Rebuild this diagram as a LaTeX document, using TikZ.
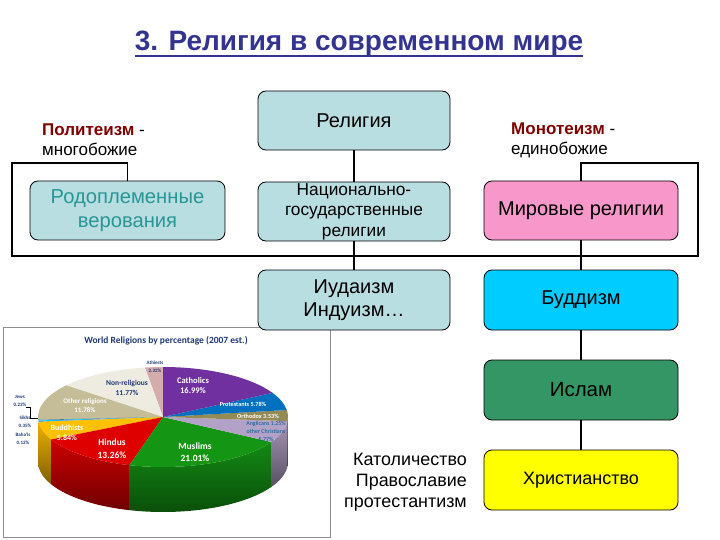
\documentclass[tikz,border=0pt]{standalone}
\usepackage{fontspec}
\setmainfont{Liberation Sans}
\newfontfamily\calfont{Carlito}
\definecolor{titleblue}{RGB}{51,51,145}
\definecolor{boxblue}{RGB}{185,222,226}
\definecolor{tealtext}{RGB}{40,150,150}
\definecolor{pinkbox}{RGB}{248,152,202}
\definecolor{cyanbox}{RGB}{0,204,255}
\definecolor{greenbox}{RGB}{51,150,100}
\definecolor{yellowbox}{RGB}{255,255,0}
\definecolor{maroon}{RGB}{128,0,0}
\definecolor{cathc}{RGB}{112,48,160}
\definecolor{protc}{RGB}{0,112,192}
\definecolor{orthc}{RGB}{148,138,84}
\definecolor{anglc}{RGB}{179,162,199}
\definecolor{muslc}{RGB}{20,150,20}
\definecolor{hindc}{RGB}{222,0,0}
\definecolor{buddc}{RGB}{255,192,0}
\definecolor{smallc}{RGB}{90,110,150}
\definecolor{otherc}{RGB}{196,189,151}
\definecolor{nonrc}{RGB}{238,236,225}
\definecolor{athec}{RGB}{212,172,172}
\definecolor{piefont}{RGB}{31,56,120}
\newcommand\pieslice[3]{\fill[#3] (0,0) -- (#1:125 and 50) arc[start angle=#1, end angle=#2, x radius=125, y radius=50] -- cycle;}
\newcommand\pieside[3]{\shade[top color=#3!92!black, bottom color=#3!50!black] (#1:125 and 50) arc[start angle=#1, end angle=#2, x radius=125, y radius=50] -- ++(0,-45) arc[start angle=#2, end angle=#1, x radius=125, y radius=50] -- cycle;}
\begin{document}
\begin{tikzpicture}[x=1pt,y=-1pt,
  box/.style={draw=black, line width=0.8pt, rounded corners=8pt, minimum width=192pt, minimum height=59pt, inner sep=0pt, align=center, font=\fontsize{20}{24}\selectfont},
  conn/.style={line width=1.5pt},
  side/.style={align=left, inner sep=0pt, font=\fontsize{17}{20}\selectfont},
  pl/.style={inner sep=0pt, align=center, font=\calfont\bfseries\fontsize{8.5}{10}\selectfont, text=white},
  pls/.style={inner sep=0pt, align=center, font=\calfont\bfseries\fontsize{6}{8}\selectfont, text=piefont},
]
\useasboundingbox (0,0) rectangle (720,540);
\fill[white] (0,0) rectangle (720,540);

% pie chart picture
\draw[fill=white, draw=black!45, line width=0.8pt] (3,327) rectangle (330,537);
\node[inner sep=0pt, text=piefont, font=\calfont\bfseries\fontsize{9.5}{11}\selectfont] (pietitle) at (166,341) {World Religions by percentage (2007 est.)};
\begin{scope}[shift={(163,417)}, y=1pt]
  \pieside{180}{183.13}{otherc}
  \pieside{183.13}{183.96}{smallc}
  \pieside{183.96}{185.22}{cyanbox}
  \pieside{185.22}{185.65}{smallc}
  \pieside{185.65}{206.67}{buddc}
  \pieside{206.67}{254.41}{hindc}
  \pieside{254.41}{330.05}{muslc}
  \pieside{330.05}{355.32}{anglc}
  \pieside{355.32}{360}{orthc}
  \pieslice{90}{98.35}{athec}
  \pieslice{98.35}{140.72}{nonrc}
  \pieslice{140.72}{183.13}{otherc}
  \pieslice{183.13}{183.96}{smallc}
  \pieslice{183.96}{185.22}{cyanbox}
  \pieslice{185.22}{185.65}{smallc}
  \pieslice{185.65}{206.67}{buddc}
  \pieslice{206.67}{254.41}{hindc}
  \pieslice{254.41}{330.05}{muslc}
  \pieslice{330.05}{355.32}{anglc}
  \pieslice{-4.68}{8.03}{orthc}
  \pieslice{8.03}{28.84}{protc}
  \pieslice{28.84}{90}{cathc}
\end{scope}
\node[pl] (lcath) at (193,386) {Catholics\\16.99\%};
\node[pl, text=piefont, font=\calfont\bfseries\fontsize{7.5}{9.5}\selectfont] (lnonr) at (127,388) {Non-religious\\11.77\%};
\node[pl, font=\calfont\bfseries\fontsize{7}{9}\selectfont] (lother) at (85,405.5) {Other religions\\11.78\%};
\node[pl, font=\calfont\bfseries\fontsize{6.2}{8}\selectfont] (lprot) at (243,404) {Protestants 5.78\%};
\node[pl, font=\calfont\bfseries\fontsize{6.2}{8}\selectfont] (lorth) at (258,416) {Orthodox 3.53\%};
\node[pls, text=protc!80!black, font=\calfont\fontsize{6}{8}\selectfont] (langl) at (266,431) {Anglicans 1.25\%\\other Christians\\5.77\%};
\node[pls, font=\calfont\bfseries\fontsize{5}{7.5}\selectfont] (lathe) at (155,367) {Athiests\\2.32\%};
\node[pls, font=\calfont\bfseries\fontsize{5}{8}\selectfont] (ljews) at (20,401) {Jews\\0.23\%};
\node[pls, font=\calfont\bfseries\fontsize{5}{8}\selectfont] (lsikh) at (25,422) {Sikhs\\0.35\%};
\node[pls, font=\calfont\bfseries\fontsize{5}{8}\selectfont] (lbaha) at (23,438.5) {Baha'is\\0.12\%};
\coordinate (jewsend) at (38,418);
\draw[line width=0.4pt] (ljews.south east) -- ++(4,0) |- (jewsend);
\node[pl, font=\calfont\bfseries\fontsize{8}{10}\selectfont] (lbudd) at (67,433) {Buddhists\\5.84\%};
\node[pl, font=\calfont\bfseries\fontsize{9.5}{13}\selectfont] (lhind) at (112,448.5) {Hindus\\13.26\%};
\node[pl, font=\calfont\bfseries\fontsize{9.5}{12}\selectfont] (lmusl) at (195,452) {Muslims\\21.01\%};

% title
\node[inner sep=0pt, text=titleblue, font=\bfseries\fontsize{28}{32}\selectfont] (title) at (359,44) {3. Религия в современном мире};
\draw[titleblue, line width=2pt] ([yshift=-5pt]title.base west) -- ([yshift=-5pt]title.base east);

% side texts
\node[side, anchor=west] (poly) at (42,140) {{\color{maroon}\bfseries Политеизм} -\\многобожие};
\node[side, anchor=west] (mono) at (511,140) {{\color{maroon}\bfseries Монотеизм} -\\единобожие};

% boxes
\node[box, fill=boxblue] (rel) at (354,120.5) {Религия};
\node[box, fill=boxblue, minimum width=195pt, text=tealtext, font=\fontsize{20.2}{23.5}\selectfont] (rod) at (127.5,210.5) {Родоплеменные\\верования};
\node[box, fill=boxblue, font=\fontsize{17.3}{20.5}\selectfont] (nat) at (354,211.5) {Национально-\\государственные\\религии};
\node[box, fill=pinkbox, minimum width=194pt] (mir) at (581,210.5) {Мировые религии};
\node[box, fill=boxblue, minimum height=60pt, font=\fontsize{20}{22.5}\selectfont] (iud) at (354,300) {Иудаизм\\Индуизм…};
\node[box, fill=cyanbox, minimum width=194pt, minimum height=60pt] (bud) at (581,300) {Буддизм};
\node[box, fill=greenbox, minimum width=194pt, minimum height=60pt, font=\fontsize{20.5}{22}\selectfont] (isl) at (581,390) {Ислам};
\node[box, fill=yellowbox, minimum width=194pt, minimum height=60pt, font=\fontsize{18}{20}\selectfont] (chr) at (581,480) {Христианство};

\node[side, anchor=east, align=right, font=\fontsize{17.9}{21}\selectfont] (chrtext) at (467,482) {Католичество\\Православие\\протестантизм};

% connectors
\coordinate (tl) at (12,163);
\coordinate (bl) at (12,256);
\coordinate (br) at (698,256);
\coordinate (tr) at (698,163);
\draw[conn, line width=1.8pt] (rod.north) |- (tl) -- (bl) -- (br) -- (tr) -| (mir.north);
\draw[conn] (rel.south) -- (nat.north);
\draw[conn] (nat.south) -- (iud.north);
\draw[conn] (mir.south) -- (bud.north);
\draw[conn] (bud.south) -- (isl.north);
\draw[conn] (isl.south) -- (chr.north);
\end{tikzpicture}
\end{document}
